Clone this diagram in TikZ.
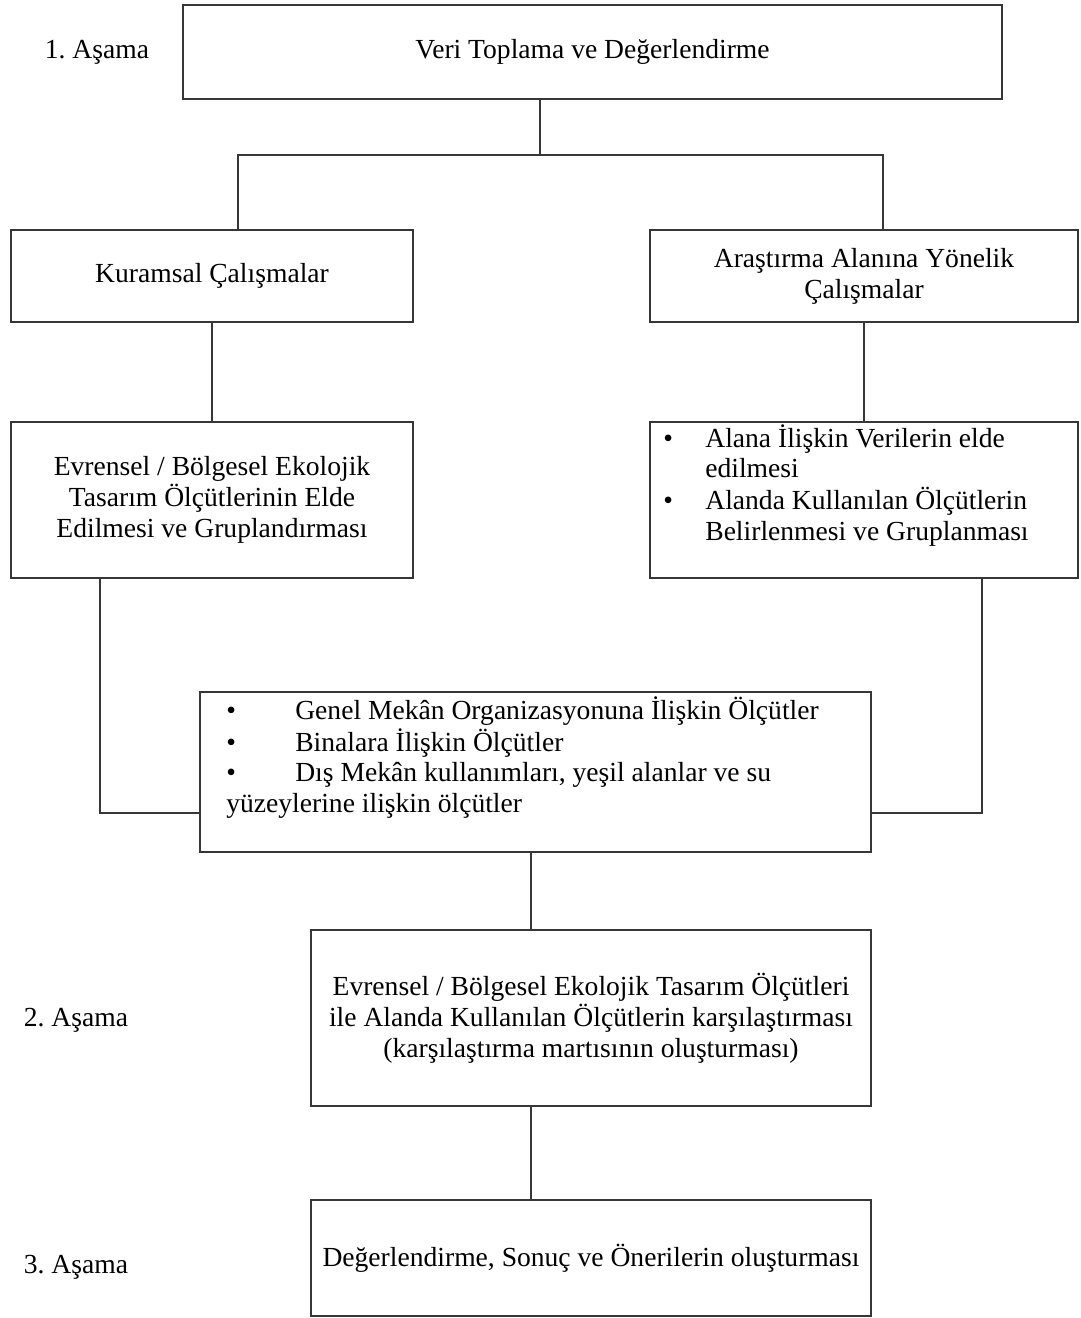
\documentclass[tikz,border=0pt]{standalone}
\usepackage{fontspec}
\setmainfont{Liberation Serif}
\definecolor{linegray}{RGB}{55,55,55}
\frenchspacing

\begin{document}
\begin{tikzpicture}[
  x=0.02cm, y=-0.02cm,
  box/.style={rectangle, draw=linegray, line width=1.2pt, fill=white,
              inner sep=0pt, outer sep=0pt, align=center,
              font=\fontsize{15.7}{17.6}\selectfont},
  bullettext/.style={anchor=base west, inner sep=0pt,
                     font=\fontsize{15.7}{17.6}\selectfont},
  stagelabel/.style={inner sep=0pt, font=\fontsize{15.7}{17.6}\selectfont},
  link/.style={draw=linegray, line width=1.2pt}
]
  \useasboundingbox (0,0) rectangle (1081,1318);

  % stage labels
  \foreach \n/\x/\y in {1/97/52, 2/76/1020, 3/76/1267} {
    \node[stagelabel] (stage\n) at (\x,\y) {\n. Aşama};
  }

  % boxes
  \node[box, minimum width=16.38cm, minimum height=1.88cm] (veri) at (592.5,52)
       {Veri Toplama ve Değerlendirme};
  \node[box, minimum width=8.04cm, minimum height=1.84cm] (kuram) at (212,276)
       {Kuramsal Çalışmalar};
  \node[box, minimum width=8.56cm, minimum height=1.84cm] (arastirma) at (864,276)
       {Araştırma Alanına Yönelik\\Çalışmalar};
  \node[box, minimum width=8.04cm, minimum height=3.12cm] (evren) at (212,500)
       {Evrensel / Bölgesel Ekolojik\\Tasarım Ölçütlerinin Elde\\Edilmesi ve Gruplandırması};
  \node[box, minimum width=8.56cm, minimum height=3.12cm] (alan) at (864,500) {};
  \node[box, minimum width=13.42cm, minimum height=3.2cm] (olcut) at (535.5,772) {};
  \node[box, minimum width=11.2cm, minimum height=3.52cm] (kars) at (591,1018)
       {Evrensel / Bölgesel Ekolojik Tasarım Ölçütleri\\
        ile Alanda Kullanılan Ölçütlerin karşılaştırması\\
        (karşılaştırma martısının oluşturması)};
  \node[box, minimum width=11.2cm, minimum height=2.32cm] (sonuc) at (591,1258)
       {Değerlendirme, Sonuç ve Önerilerin oluşturması};

  % bullet lists
  \node[bullettext] (alanlist) at (663,447) {%
    \begin{tabular}[t]{@{}p{0.84cm}@{}l@{}}
      \textbullet & Alana İlişkin Verilerin elde\\
                  & edilmesi\\
      \textbullet & Alanda Kullanılan Ölçütlerin\\
                  & Belirlenmesi ve Gruplanması
    \end{tabular}};
  \node[bullettext] (olcutlist) at (226,719) {%
    \begin{tabular}[t]{@{}p{1.38cm}@{}l@{}}
      \textbullet & Genel Mekân Organizasyonuna İlişkin Ölçütler\\
      \textbullet & Binalara İlişkin Ölçütler\\
      \textbullet & Dış Mekân kullanımları, yeşil alanlar ve su\\
      \multicolumn{2}{@{}l@{}}{yüzeylerine ilişkin ölçütler}
    \end{tabular}};

  % connectors
  \coordinate (split) at (540,155);
  \coordinate (splitl) at (238,155);
  \coordinate (splitr) at (883,155);
  \coordinate (joinl) at (100,813);
  \coordinate (joinr) at (982,813);

  \draw[link] (veri.south -| split) -- (split);
  \draw[link] (splitl |- kuram.north) -- (splitl) -- (splitr) -- (splitr |- arastirma.north);
  \draw[link] (kuram.south) -- (evren.north);
  \draw[link] (arastirma.south) -- (alan.north);
  \draw[link] (evren.south -| joinl) -- (joinl) -- (joinl -| olcut.west);
  \draw[link] (alan.south -| joinr) -- (joinr) -- (joinr -| olcut.east);
  \draw[link] (olcut.south -| 531,0) -- (kars.north -| 531,0);
  \draw[link] (kars.south -| 531,0) -- (sonuc.north -| 531,0);
\end{tikzpicture}
\end{document}
